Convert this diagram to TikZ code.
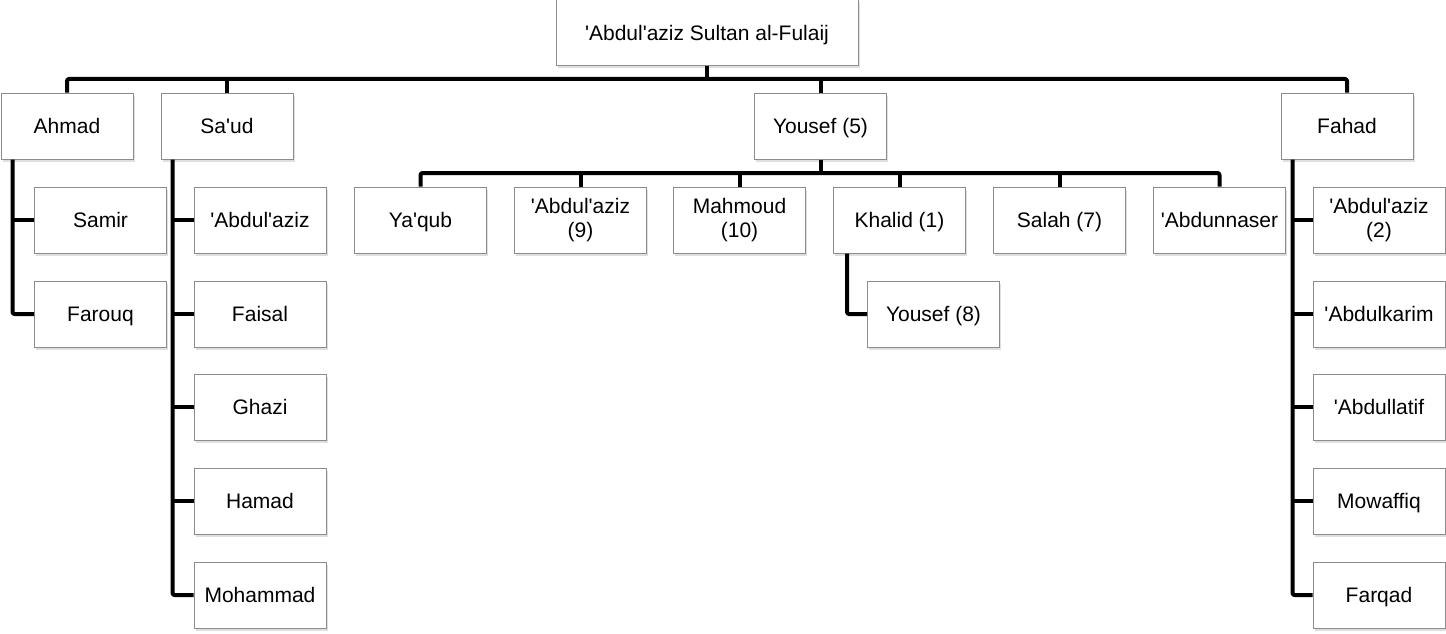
\documentclass[tikz,border=0pt]{standalone}
\usepackage{fontspec}
\newfontfamily\namefont{Liberation Sans}
\usepackage{tikz}
\usetikzlibrary{shadows,calc,positioning}
\newcommand\namestrut{\rule[-4.7pt]{0pt}{24pt}}

\begin{document}
\begin{tikzpicture}[x=1pt,y=-1pt]
	\tikzset{
		person/.style = {shape=rectangle, draw={rgb,255:red,140;green,140;blue,140}, line width=1pt,
			fill=white, minimum width=132pt, minimum height=66pt, inner sep=0pt, align=center,
			font=\namefont\fontsize{21}{24}\selectfont,
			execute at begin node=\namestrut, execute at end node=\namestrut,
			drop shadow={shadow xshift=1.5pt, shadow yshift=-2.5pt, opacity=0.25}},
		link/.style = {line width=4pt, line join=round, rounded corners=2pt}
	}
	\useasboundingbox (0,0) rectangle (1446,634);

	% top generation
	\node [person, minimum width=302pt] (root) at (707,33) {'Abdul'aziz Sultan al-Fulaij};

	% sons
	\node [person] (ahmad)  at (67,126)    {Ahmad};
	\node [person] (saud)   at (227,126)   {Sa'ud};
	\node [person] (yousef) at (820.5,126) {Yousef (5)};
	\node [person] (fahad)  at (1347,126)  {Fahad};

	% children of Ahmad
	\node [person] (samir)  at (100.5,220) {Samir};
	\node [person] (farouq) at (100.5,314) {Farouq};

	% children of Sa'ud
	\node [person] (saudaziz) at (260,220) {'Abdul'aziz};
	\node [person] (faisal)   at (260,314) {Faisal};
	\node [person] (ghazi)    at (260,407) {Ghazi};
	\node [person] (hamad)    at (260,501) {Hamad};
	\node [person] (mohammad) at (260,595) {Mohammad};

	% children of Yousef
	\node [person] (yaqub)      at (420.5,220)  {Ya'qub};
	\node [person] (yousefaziz) at (580.5,220)  {'Abdul'aziz\\(9)};
	\node [person] (mahmoud)    at (739.5,220)  {Mahmoud\\(10)};
	\node [person] (khalid)     at (899.5,220)  {Khalid (1)};
	\node [person] (salah)      at (1059.5,220) {Salah (7)};
	\node [person] (abdunnaser) at (1219.5,220) {'Abdunnaser};
	\node [person] (yousefb)    at (933.5,314)  {Yousef (8)};

	% children of Fahad
	\node [person] (fahadaziz) at (1379,220) {'Abdul'aziz\\(2)};
	\node [person] (abdulkarim) at (1379,314) {'Abdulkarim};
	\node [person] (abdullatif) at (1379,407) {'Abdullatif};
	\node [person] (mowaffiq)   at (1379,501) {Mowaffiq};
	\node [person] (farqad)     at (1379,595) {Farqad};

	% buses
	\coordinate (bus)  at (707,79);
	\coordinate (ybus) at (820.5,173);
	\draw [link] (root.south) -- (bus);
	\draw [link] (ahmad.north) |- (bus) -| (fahad.north);
	\draw [link] (saud.north) -- (saud.north |- bus);
	\draw [link] (yousef.north) -- (yousef.north |- bus);
	\draw [link] (yousef.south) -- (ybus);
	\draw [link] (yaqub.north) |- (ybus) -| (abdunnaser.north);
	\foreach \n in {yousefaziz, mahmoud, khalid, salah}
		\draw [link] (\n.north) -- (\n.north |- ybus);

	% trunks
	\coordinate (atrunk) at ($(ahmad.south west)+(12,0)$);
	\coordinate (strunk) at ($(saud.south west)+(12,0)$);
	\coordinate (ktrunk) at ($(khalid.south west)+(14,0)$);
	\coordinate (ftrunk) at ($(fahad.south west)+(12,0)$);
	\draw [link] (atrunk) |- (farouq.west);
	\draw [link] (atrunk |- samir.west) -- (samir.west);
	\draw [link] (strunk) |- (mohammad.west);
	\foreach \n in {saudaziz, faisal, ghazi, hamad}
		\draw [link] (strunk |- \n.west) -- (\n.west);
	\draw [link] (ktrunk) |- (yousefb.west);
	\draw [link] (ftrunk) |- (farqad.west);
	\foreach \n in {fahadaziz, abdulkarim, abdullatif, mowaffiq}
		\draw [link] (ftrunk |- \n.west) -- (\n.west);
\end{tikzpicture}
\end{document}
